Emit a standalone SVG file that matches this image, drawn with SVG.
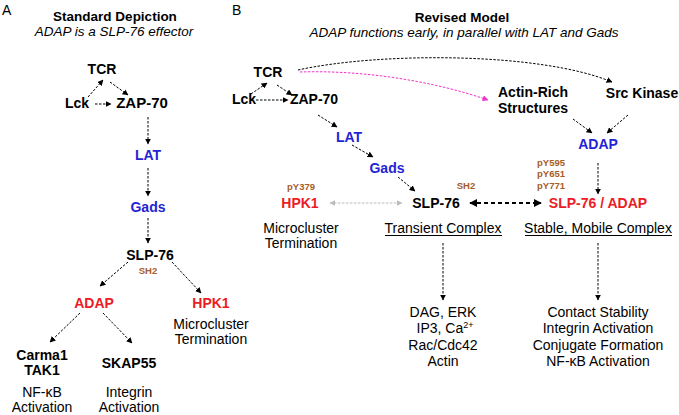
<svg xmlns="http://www.w3.org/2000/svg" width="679" height="415" viewBox="0 0 679 415">
<defs>
<marker id="ah" viewBox="0 0 10 10" refX="9" refY="5" markerWidth="6" markerHeight="6" markerUnits="userSpaceOnUse" orient="auto-start-reverse"><path d="M0,0 L10,5 L0,10 z" fill="#000"/></marker>
<marker id="ahb" viewBox="0 0 10 10" refX="9" refY="5" markerWidth="8" markerHeight="8" markerUnits="userSpaceOnUse" orient="auto-start-reverse"><path d="M0,0 L10,5 L0,10 z" fill="#000"/></marker>
<marker id="ahg" viewBox="0 0 10 10" refX="9" refY="5" markerWidth="6" markerHeight="6" markerUnits="userSpaceOnUse" orient="auto-start-reverse"><path d="M0,0 L10,5 L0,10 z" fill="#bbb"/></marker>
<marker id="ahm" viewBox="0 0 10 10" refX="9" refY="5" markerWidth="6" markerHeight="6" markerUnits="userSpaceOnUse" orient="auto-start-reverse"><path d="M0,0 L10,5 L0,10 z" fill="#ee33cc"/></marker>
</defs>
<style>
text{font-family:"Liberation Sans",Arial,sans-serif;font-size:14px;fill:#000;text-anchor:middle}
.b{font-weight:bold}
.i{font-style:italic}
.t{font-size:13.5px}
.blue{fill:#1f24d4;font-weight:bold}
.red{fill:#ec1c24;font-weight:bold}
.sm{font-size:9.5px;font-weight:bold;fill:#a65d26}
.lbl{text-anchor:start}
.c{fill:none;stroke:#000;stroke-width:1;stroke-dasharray:2.5,1.5;marker-end:url(#ah)}
.u{stroke:#000;stroke-width:1}
</style>
<rect width="679" height="415" fill="#fff"/>

<text class="lbl" x="2" y="15">A</text>
<text class="lbl" x="232" y="15">B</text>

<g id="titleA"><text class="b t" x="115" y="21">Standard Depiction</text><text class="i t" x="114" y="36">ADAP is a SLP-76 effector</text></g>
<g id="titleB"><text class="b t" x="462" y="22">Revised Model</text><text class="i t" x="464" y="37">ADAP functions early, in parallel with LAT and Gads</text></g>

<g id="connectors">
<!-- Panel A -->
<path class="c" d="M88,97 L103,80"/>
<path class="c" d="M110,82 L128,95"/>
<path class="c" d="M95,104 L111,104"/>
<path class="c" d="M148,117 L148,144"/>
<path class="c" d="M148,168 L148,196"/>
<path class="c" d="M148,218 L148,243"/>
<path class="c" d="M128,262 L100,286"/>
<path class="c" d="M172,262 L201,293"/>
<path class="c" d="M80,313 L50,342"/>
<path class="c" d="M103,313 L132,343"/>
<!-- Panel B -->
<path class="c" d="M251,94 L267,83"/>
<path class="c" d="M277,85 L292,95"/>
<path class="c" d="M256,100 L288,100"/>
<path class="c" d="M318,115 L337,127"/>
<path class="c" d="M352,145 L373,157"/>
<path class="c" d="M398,177 L415,191"/>
<path class="c" d="M573,119 L592,133"/>
<path class="c" d="M628,115 L607,133"/>
<path class="c" d="M598,163 L598,194"/>
<path class="c" d="M443,243 L443,300"/>
<path class="c" d="M598,243 L598,300"/>
<path class="c" d="M298,70 C380,52 540,52 612,82"/>
<path d="M300,72 C360,70 430,80 488,100" fill="none" stroke="#ee33cc" stroke-width="1" stroke-dasharray="2.5,1.5" marker-end="url(#ahm)"/>
<path d="M330,203 L402,203" fill="none" stroke="#bbb" stroke-width="1" stroke-dasharray="2.5,1.5" marker-start="url(#ahg)" marker-end="url(#ahg)"/>
<path d="M470,203 L541,203" fill="none" stroke="#000" stroke-width="2" stroke-dasharray="4,3" marker-start="url(#ahb)" marker-end="url(#ahb)"/>
</g>

<!-- Panel A nodes -->
<g id="A-TCR"><text class="b" x="102" y="74">TCR</text></g>
<g id="A-Lck"><text class="b" x="77" y="108">Lck</text></g>
<g id="A-ZAP70"><text class="b" x="142" y="108" style="font-size:15px">ZAP-70</text></g>
<g id="A-LAT"><text class="blue" x="148" y="160">LAT</text></g>
<g id="A-Gads"><text class="blue" x="148" y="212">Gads</text></g>
<g id="A-SLP76"><text class="b" x="150" y="260">SLP-76</text><text class="sm" x="148" y="274">SH2</text></g>
<g id="A-ADAP"><text class="red" x="94" y="308">ADAP</text></g>
<g id="A-HPK1"><text class="red" x="211" y="308">HPK1</text><text x="211" y="329">Microcluster</text><text x="211" y="344">Termination</text></g>
<g id="A-Carma1"><text class="b" x="42" y="360">Carma1</text><text class="b" x="42" y="375">TAK1</text><text x="42" y="397">NF-κB</text><text x="42" y="412">Activation</text></g>
<g id="A-SKAP55"><text class="b" x="129" y="368">SKAP55</text><text x="129" y="397">Integrin</text><text x="129" y="412">Activation</text></g>

<!-- Panel B nodes -->
<g id="B-TCR"><text class="b" x="268" y="77">TCR</text></g>
<g id="B-Lck"><text class="b" x="244" y="104">Lck</text></g>
<g id="B-ZAP70"><text class="b" x="314" y="104">ZAP-70</text></g>
<g id="B-LAT"><text class="blue" x="349" y="142">LAT</text></g>
<g id="B-Gads"><text class="blue" x="387" y="173">Gads</text></g>
<g id="B-SLP76"><text class="b" x="436" y="208">SLP-76</text><text class="sm" x="466" y="189">SH2</text></g>
<g id="B-HPK1"><text class="sm" x="301" y="190">pY379</text><text class="red" x="300" y="208">HPK1</text><text x="301" y="233">Microcluster</text><text x="301" y="248">Termination</text></g>
<g id="B-ActinRich"><text class="b" x="533" y="97">Actin-Rich</text><text class="b" x="533" y="113">Structures</text></g>
<g id="B-SrcKinase"><text class="b" x="642" y="98">Src Kinase</text></g>
<g id="B-ADAP"><text class="blue" x="598" y="149">ADAP</text></g>
<g id="B-SLP76ADAP"><text class="sm" x="551" y="166">pY595</text><text class="sm" x="551" y="177">pY651</text><text class="sm" x="551" y="189">pY771</text><text class="red" x="598" y="208">SLP-76 / ADAP</text></g>
<g id="B-Transient"><text x="443" y="233">Transient Complex</text><line class="u" x1="385" y1="235.5" x2="502" y2="235.5"/></g>
<g id="B-Stable"><text x="598" y="233">Stable, Mobile Complex</text><line class="u" x1="525" y1="235.5" x2="672" y2="235.5"/></g>
<g id="B-TransientOut"><text x="443" y="317">DAG, ERK</text><text x="445" y="333">IP3, Ca<tspan font-size="9" dy="-5">2+</tspan></text><text x="443" y="350">Rac/Cdc42</text><text x="443" y="366">Actin</text></g>
<g id="B-StableOut"><text x="598" y="317">Contact Stability</text><text x="598" y="333">Integrin Activation</text><text x="598" y="350">Conjugate Formation</text><text x="598" y="366">NF-κB Activation</text></g>
</svg>
